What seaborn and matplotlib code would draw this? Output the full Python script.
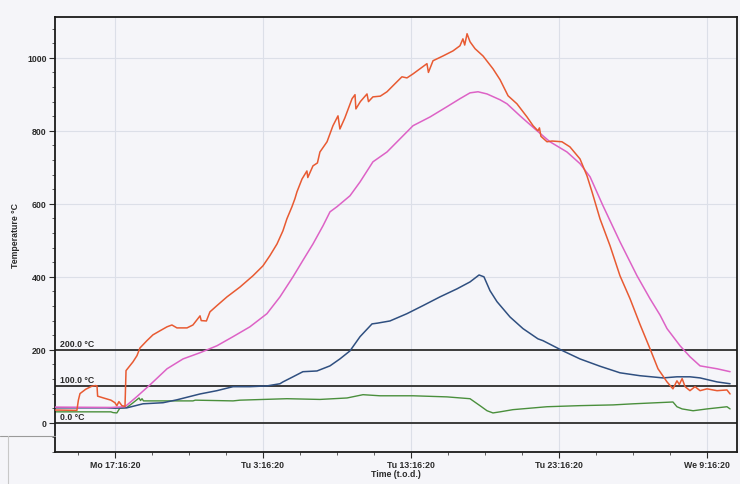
import matplotlib
matplotlib.use("Agg")
import matplotlib.pyplot as plt
import seaborn as sns
from matplotlib.ticker import MultipleLocator, FixedLocator

# time axis in hours since Monday 00:00
tick_hours = [17.272, 27.272, 37.272, 47.272, 57.272]
tick_labels = ["Mo 17:16:20", "Tu 3:16:20", "Tu 13:16:20", "Tu 23:16:20", "We 9:16:20"]

# limit lines
limits = [200, 100, 0]
limit_labels = ["200.0 °C", "100.0 °C", "0.0 °C"]

# red probe
red_t = [13.22, 14.70, 14.80, 14.91, 15.30, 15.70, 15.95, 16.06, 16.10, 16.50, 17.00, 17.27,
         17.40, 17.54, 17.74, 17.95, 18.02, 18.49, 18.76, 18.96, 19.43, 19.84, 20.31, 20.79,
         21.12, 21.46, 22.14, 22.54, 23.02, 23.10, 23.45, 23.69, 24.16, 24.84, 25.72, 26.60,
         27.27, 27.74, 28.22, 28.62, 28.89, 29.23, 29.43, 29.57, 29.91, 30.24, 30.30, 30.65,
         30.95, 31.12, 31.60, 32.00, 32.34, 32.47, 32.80, 33.29, 33.49, 33.55, 33.85, 34.30,
         34.40, 34.70, 35.20, 35.65, 36.19, 36.66, 37.00, 37.41, 37.88, 38.35, 38.45, 38.76,
         39.43, 40.11, 40.58, 40.78, 40.90, 41.06, 41.26, 41.60, 42.14, 42.81, 43.29, 43.83,
         44.43, 45.11, 45.52, 45.85, 45.95, 46.05, 46.46, 46.80, 47.47, 48.01, 48.69, 49.16,
         49.50, 50.04, 50.72, 51.39, 52.07, 52.74, 53.42, 53.96, 54.57, 54.97, 55.24, 55.40,
         55.59, 55.79, 56.12, 56.46, 56.80, 57.27, 57.95, 58.62, 58.83]
red_v = [35, 34, 62, 80, 92, 100, 102, 101, 73, 68, 62, 55,
         47, 58, 47, 45, 143, 167, 184, 205, 225, 241, 252, 263,
         268, 260, 260, 268, 293, 280, 279, 304, 321, 345, 372, 403,
         430, 458, 490, 526, 559, 592, 614, 633, 668, 690, 672, 704,
         712, 742, 770, 814, 841, 805, 835, 888, 899, 860, 880, 901,
         880, 893, 895, 907, 929, 948, 945, 956, 970, 984, 960, 992,
         1005, 1019, 1033, 1052, 1035, 1066, 1044, 1025, 1005, 970, 940, 896,
         874, 838, 814, 800, 808, 785, 770, 772, 770, 756, 723, 677,
         633, 559, 485, 403, 340, 270, 203, 148, 112, 93, 115, 105,
         121, 99, 88, 99, 88, 93, 88, 90, 79]

# magenta probe
pink_t = [13.22, 17.00, 17.95, 18.76, 19.64, 20.79, 21.87, 23.02, 24.16, 25.25, 26.39, 27.54,
          28.42, 29.30, 29.97, 30.65, 31.33, 31.80, 32.27, 33.15, 33.83, 34.70, 35.65, 36.53,
          37.41, 38.56, 39.70, 40.58, 41.26, 41.80, 42.41, 43.29, 43.76, 44.64, 45.79, 46.66,
          47.81, 48.69, 49.37, 50.24, 51.39, 52.54, 53.42, 54.10, 54.57, 55.45, 56.12, 56.80,
          57.95, 58.83]
pink_v = [43, 42, 44, 72, 104, 148, 175, 192, 211, 236, 263, 299,
          345, 400, 445, 490, 540, 578, 592, 622, 660, 715, 742, 778,
          814, 838, 866, 888, 904, 907, 901, 885, 874, 841, 800, 770,
          742, 710, 674, 595, 496, 403, 340, 295, 258, 211, 181, 156,
          148, 140]

# blue probe
blue_t = [13.22, 16.70, 17.27, 18.08, 19.16, 20.52, 21.46, 23.02, 24.16, 25.25, 26.39, 27.54,
          28.42, 28.62, 29.30, 29.97, 30.92, 31.80, 32.47, 33.15, 33.83, 34.64, 35.00, 35.85,
          37.00, 38.08, 39.23, 40.38, 41.26, 41.87, 42.20, 42.61, 43.08, 43.96, 44.84, 45.85,
          46.19, 47.54, 48.69, 50.04, 51.39, 52.74, 54.30, 55.24, 56.12, 56.80, 57.95, 58.83]
blue_v = [41, 41, 40, 41, 52, 55, 63, 79, 88, 99, 99, 101,
          107, 112, 126, 140, 142, 156, 175, 197, 236, 271, 273, 279,
          299, 321, 345, 367, 386, 405, 400, 362, 332, 290, 258, 230,
          225, 197, 175, 155, 137, 129, 123, 126, 126, 123, 112, 107]

# green probe
green_t = [13.22, 17.00, 17.14, 17.40, 17.60, 18.08, 18.50, 18.90, 19.00, 19.10, 19.20, 22.54,
           22.70, 25.25, 25.72, 28.89, 31.12, 32.95, 34.03, 35.18, 37.41, 39.70, 41.26, 41.93,
           42.41, 42.81, 43.29, 44.16, 46.46, 48.69, 50.92, 52.27, 54.97, 55.24, 55.59, 56.33,
           57.27, 58.62, 58.83]
green_v = [30, 30, 28, 27, 40, 42, 55, 68, 61, 66, 60, 60,
           62, 60, 62, 66, 64, 68, 77, 74, 74, 71, 66, 47,
           33, 27, 30, 36, 44, 47, 49, 52, 57, 44, 38, 33,
           38, 44, 38]

sns.set_theme(style="ticks")
plt.rcParams["font.family"] = ["Liberation Sans", "DejaVu Sans"]

bg = "#f5f5f9"
fig = plt.figure(figsize=(7.4, 4.85), dpi=100, facecolor=bg)
ax = fig.add_axes([0.0743, 0.066, 0.9217, 0.897])
ax.set_facecolor(bg)

# faint grid
for h in tick_hours:
    ax.axvline(h, color="#dcdfe8", lw=0.8, zorder=0)
for v in [400, 600, 800, 1000]:
    ax.axhline(v, color="#dcdfe8", lw=0.8, zorder=0)

# limit lines with labels
for v, lab in zip(limits, limit_labels):
    ax.axhline(v, color="#3a3a3a", lw=1.4, zorder=1)
    ax.text(13.55, v + 6, lab, fontsize=6.3, fontweight="bold", color="#2a2a2a",
            va="bottom", ha="left")

sns.lineplot(x=green_t, y=green_v, color="#4a8f3c", lw=1.0, ax=ax, zorder=2)
sns.lineplot(x=blue_t, y=blue_v, color="#2f4f80", lw=1.1, ax=ax, zorder=3)
sns.lineplot(x=pink_t, y=pink_v, color="#dd62c6", lw=1.1, ax=ax, zorder=4)
sns.lineplot(x=red_t, y=red_v, color="#e85a32", lw=1.1, ax=ax, zorder=5)

ax.set_xlim(13.22, 59.30)
ax.set_ylim(-80, 1112)
ax.set_xticks(tick_hours)
ax.set_xticklabels(tick_labels, fontweight="bold")
ax.xaxis.set_minor_locator(FixedLocator([tick_hours[0] - 2.5 + 2.5 * i for i in range(19)]))
ax.yaxis.set_major_locator(FixedLocator([0, 200, 400, 600, 800, 1000]))
ax.set_yticklabels(["0", "200", "400", "600", "800", "1000"], fontweight="bold")
ax.yaxis.set_minor_locator(MultipleLocator(40))
ax.tick_params(axis="both", which="major", labelsize=6.3, length=4, width=0.8,
               colors="#2a2a2a", pad=2)
ax.tick_params(axis="both", which="minor", length=2.5, width=0.6, colors="#444444")

for s in ax.spines.values():
    s.set_visible(True)
    s.set_color("#1a1a1a")
    s.set_linewidth(1.3)

ax.set_xlabel("Time (t.o.d.)", fontsize=6.3, fontweight="bold", labelpad=0, color="#2a2a2a")
ax.set_ylabel("Temperature °C", fontsize=6.3, fontweight="bold", color="#2a2a2a")
ax.yaxis.set_label_coords(-0.052, 0.5)

# scan border leftover in the lower left corner
fig.add_artist(plt.Line2D([0, 0.074], [1 - 437 / 485, 1 - 437 / 485], color="#9a9a9a", lw=0.8))
fig.add_artist(plt.Line2D([8 / 740, 8 / 740], [0, 1 - 437 / 485], color="#c8c8c8", lw=0.8))

plt.savefig("out.png", dpi=100, facecolor=bg)
